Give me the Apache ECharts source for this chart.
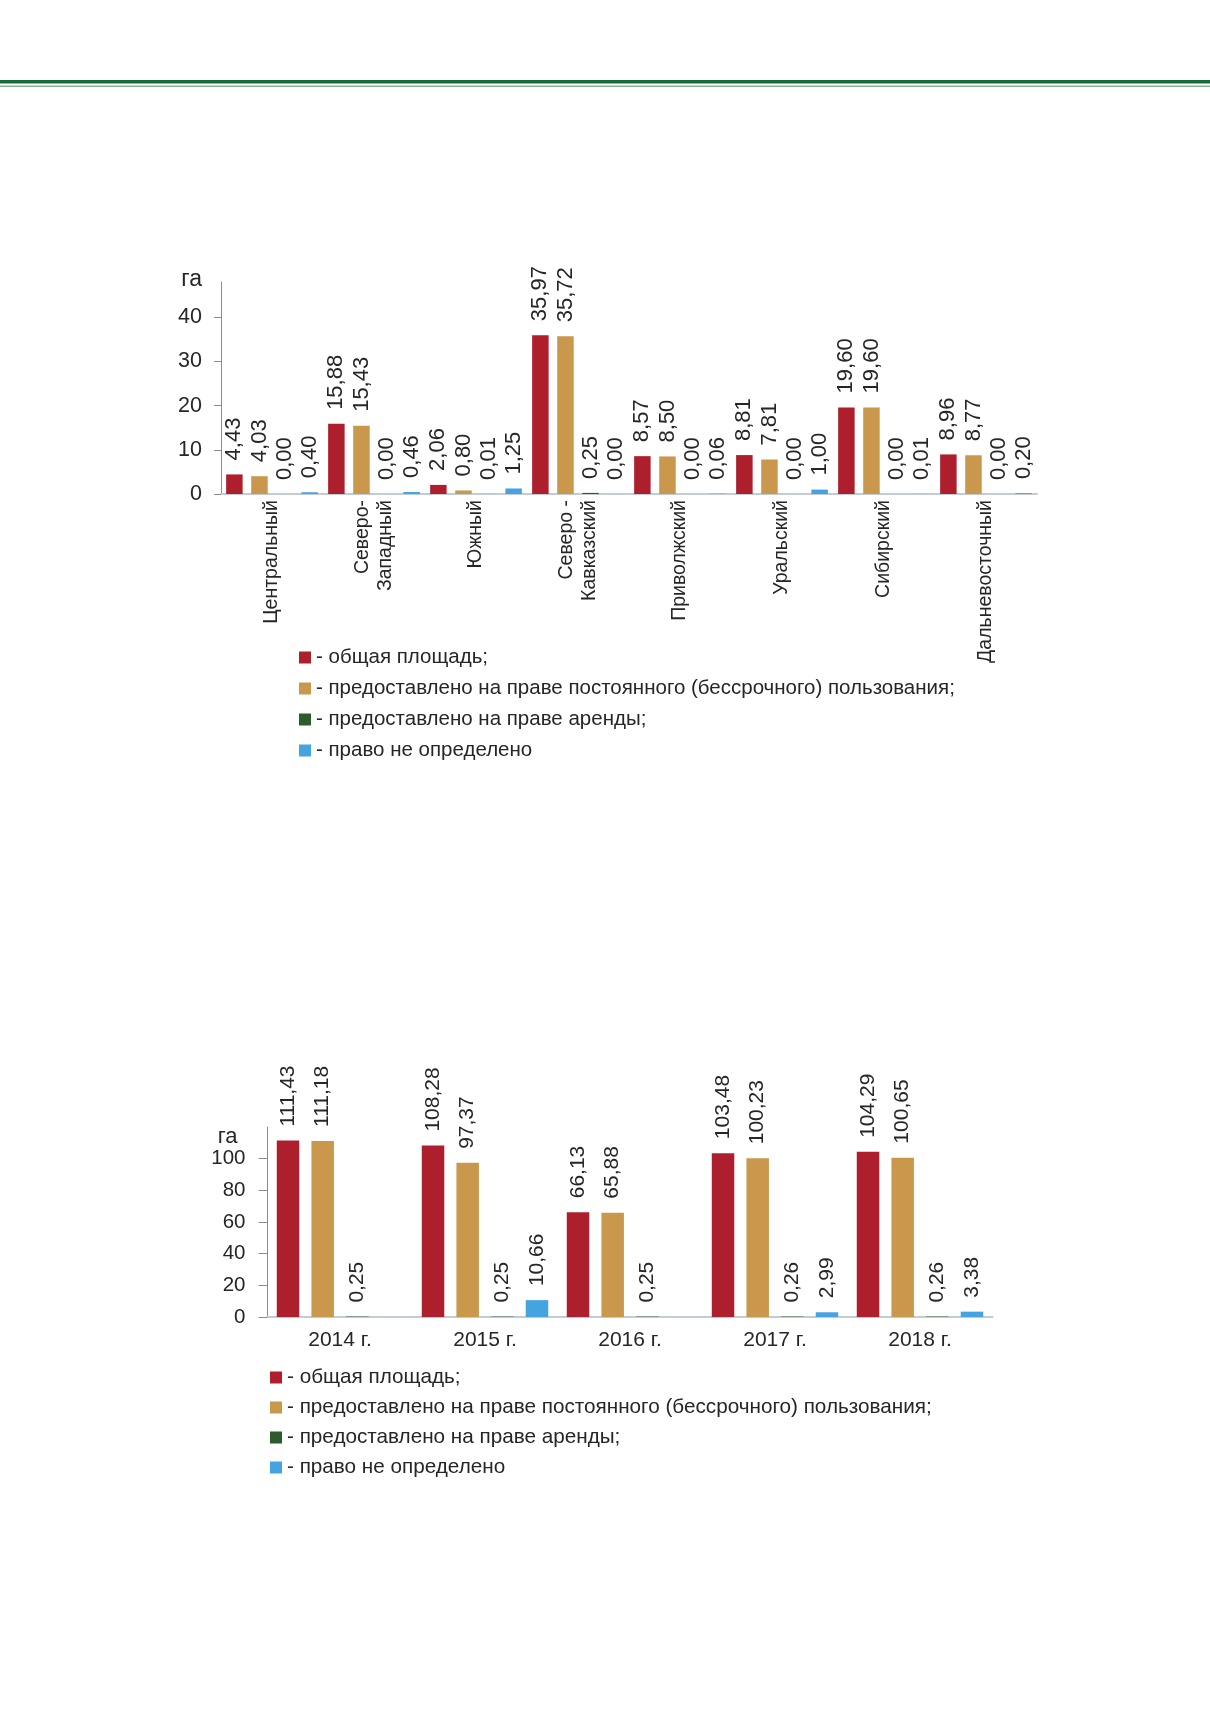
<!DOCTYPE html>
<html>
<head>
<meta charset="utf-8">
<script src="https://cdn.jsdelivr.net/npm/echarts@6/dist/echarts.min.js"></script>
<style>
  html, body { margin: 0; padding: 0; background: #fff; }
  #chart { width: 1210px; height: 1712px; }
</style>
</head>
<body>
<div id="chart"></div>
<script>
// верхняя диаграмма: по федеральным округам, га
const regions = ['Центральный', 'Северо-\nЗападный', 'Южный', 'Северо -\nКавказский',
  'Приволжский', 'Уральский', 'Сибирский', 'Дальневосточный'];
const regionTotal = [4.43, 15.88, 2.06, 35.97, 8.57, 8.81, 19.60, 8.96];
const regionPermanent = [4.03, 15.43, 0.80, 35.72, 8.50, 7.81, 19.60, 8.77];
const regionLease = [0.00, 0.00, 0.01, 0.25, 0.00, 0.00, 0.00, 0.00];
const regionUndefined = [0.40, 0.46, 1.25, 0.00, 0.06, 1.00, 0.01, 0.20];
const regionTicks = [0, 10, 20, 30, 40];

// нижняя диаграмма: по годам, га
const years = ['2014 г.', '2015 г.', '2016 г.', '2017 г.', '2018 г.'];
const yearTotal = [111.43, 108.28, 66.13, 103.48, 104.29];
const yearPermanent = [111.18, 97.37, 65.88, 100.23, 100.65];
const yearLease = [0.25, 0.25, 0.25, 0.26, 0.26];
const yearUndefined = [null, 10.66, null, 2.99, 3.38];
const yearTicks = [0, 20, 40, 60, 80, 100];

const seriesNames = [
  'общая площадь;',
  'предоставлено на праве постоянного (бессрочного) пользования;',
  'предоставлено на праве аренды;',
  'право не определено'
];
const colors = ['#ae1f2d', '#c9984c', '#2d5b2b', '#45a3e0'];

const font = '"Liberation Sans", Arial, sans-serif';
const textColor = '#262626';
const fmt = p => p.value == null ? '' : p.value.toFixed(2).replace('.', ',');

function bars(data, idx, axisIdx, width, gap, size) {
  return {
    name: seriesNames[idx],
    type: 'bar',
    xAxisIndex: axisIdx,
    yAxisIndex: axisIdx,
    data: data,
    barWidth: width,
    barGap: gap,
    itemStyle: { color: colors[idx] },
    label: {
      show: true,
      position: 'top',
      rotate: 90,
      align: 'left',
      verticalAlign: 'middle',
      distance: 14,
      fontSize: size,
      fontFamily: font,
      color: textColor,
      formatter: fmt
    }
  };
}

function legend(left, top, gap, size) {
  return {
    orient: 'vertical',
    left: left,
    top: top,
    icon: 'rect',
    itemWidth: 12,
    itemHeight: 12,
    itemGap: gap,
    itemTextGap: 4,
    selectedMode: false,
    data: seriesNames,
    formatter: '- {name}',
    textStyle: { fontSize: size, fontFamily: font, color: textColor, lineHeight: 20 }
  };
}

const chart = echarts.init(document.getElementById('chart'));
chart.setOption({
  animation: false,
  backgroundColor: '#fff',
  graphic: [
    { type: 'rect', shape: { x: 0, y: 80, width: 1210, height: 3.5 }, style: { fill: '#176b3b' }, silent: true },
    { type: 'rect', shape: { x: 0, y: 85.5, width: 1210, height: 1.5 }, style: { fill: '#86b596' }, silent: true }
  ],
  legend: [legend(294, 642, 10, 20.5), legend(265, 1362, 9, 20.7)],
  grid: [
    { left: 221, top: 282, width: 816, height: 212 },
    { left: 267.5, top: 1127, width: 725, height: 190 }
  ],
  xAxis: [
    {
      type: 'category', gridIndex: 0, data: regions,
      axisLine: { lineStyle: { color: '#c3ccd3', width: 2 } },
      axisTick: { show: false },
      axisLabel: { interval: 0, rotate: 90, margin: 6, fontSize: 19.5, lineHeight: 23,
        fontFamily: font, color: textColor }
    },
    {
      type: 'category', gridIndex: 1, data: years,
      axisLine: { lineStyle: { color: '#c3ccd3', width: 2 } },
      axisTick: { show: false },
      axisLabel: { interval: 0, margin: 13, fontSize: 21, fontFamily: font, color: textColor }
    }
  ],
  yAxis: [
    {
      type: 'value', gridIndex: 0, min: 0, max: 48,
      name: 'га', nameLocation: 'end', nameGap: 2,
      nameTextStyle: { fontSize: 23, fontFamily: font, color: textColor,
        align: 'right', verticalAlign: 'middle', padding: [0, 19, 0, 0] },
      axisLine: { show: true, lineStyle: { color: '#8c8c8c', width: 1 } },
      axisTick: { show: true, length: 7, customValues: regionTicks, lineStyle: { color: '#8c8c8c' } },
      axisLabel: { customValues: regionTicks, margin: 19, fontSize: 21.5, fontFamily: font, color: textColor },
      splitLine: { show: false }
    },
    {
      type: 'value', gridIndex: 1, min: 0, max: 120,
      name: 'га', nameLocation: 'end', nameGap: -11,
      nameTextStyle: { fontSize: 22, fontFamily: font, color: textColor,
        align: 'right', verticalAlign: 'middle', padding: [0, 30, 0, 0] },
      axisLine: { show: true, lineStyle: { color: '#8c8c8c', width: 1 } },
      axisTick: { show: true, length: 9, customValues: yearTicks, lineStyle: { color: '#8c8c8c' } },
      axisLabel: { customValues: yearTicks, margin: 22, fontSize: 20.5, fontFamily: font, color: textColor },
      splitLine: { show: false }
    }
  ],
  series: [
    bars(regionTotal, 0, 0, 16.5, '52%', 22),
    bars(regionPermanent, 1, 0, 16.5, '52%', 22),
    bars(regionLease, 2, 0, 16.5, '52%', 22),
    bars(regionUndefined, 3, 0, 16.5, '52%', 22),
    bars(yearTotal, 0, 1, 22.5, '54%', 21),
    bars(yearPermanent, 1, 1, 22.5, '54%', 21),
    bars(yearLease, 2, 1, 22.5, '54%', 21),
    bars(yearUndefined, 3, 1, 22.5, '54%', 21)
  ]
});
</script>
</body>
</html>
